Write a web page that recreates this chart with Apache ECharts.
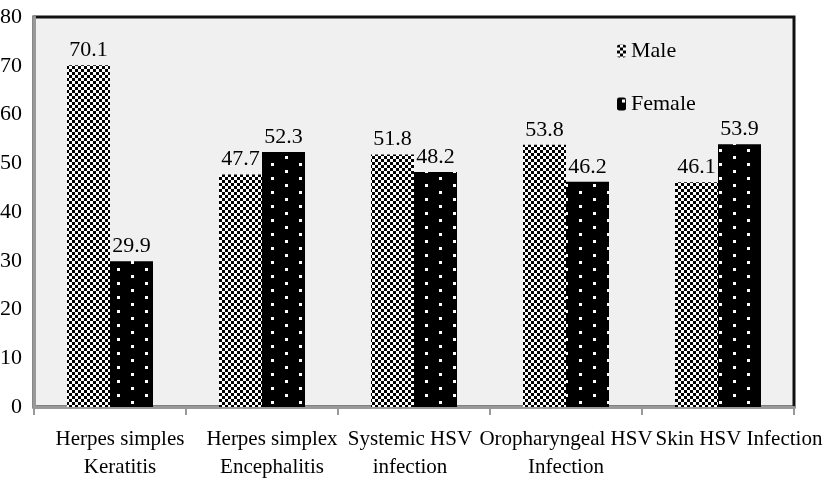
<!DOCTYPE html>
<html>
<head>
<meta charset="utf-8">
<script src="https://cdn.jsdelivr.net/npm/echarts@6/dist/echarts.min.js"></script>
<style>html,body{margin:0;padding:0;background:#fff}#c{width:826px;height:504px}</style>
</head>
<body>
<div id="c"></div>
<script>
const categories = ["Herpes simples\nKeratitis", "Herpes simplex\nEncephalitis", "Systemic HSV\ninfection", "Oropharyngeal HSV\nInfection", "Skin HSV Infection"];
const maleValues = [70.1, 47.7, 51.8, 53.8, 46.1];
const femaleValues = [29.9, 52.3, 48.2, 46.2, 53.9];
const seriesNames = ["Male", "Female"];

function checker() {
  const c = document.createElement('canvas');
  c.width = 6; c.height = 6;
  const g = c.getContext('2d');
  g.fillStyle = '#fff'; g.fillRect(0, 0, 6, 6);
  g.fillStyle = '#000';
  g.fillRect(0, 0, 3, 3); g.fillRect(3, 3, 3, 3);
  return c;
}
function dots() {
  const c = document.createElement('canvas');
  c.width = 28; c.height = 14;
  const g = c.getContext('2d');
  g.fillStyle = '#000'; g.fillRect(0, 0, 28, 14);
  g.fillStyle = '#fff';
  g.fillRect(5, 2, 3, 3); g.fillRect(19, 9, 3, 3);
  return c;
}
const FONT = 'Liberation Serif';
// horizontal nudges of the category labels (layout only)
const labelShift = [10, 10, -4, 0, 21];
const rich = {};
labelShift.forEach((s, i) => {
  rich['s' + i] = {fontFamily: FONT, fontSize: 21, color: '#000', lineHeight: 28,
    padding: s >= 0 ? [0, 0, 0, 2 * s] : [0, -2 * s, 0, 0]};
});
const chart = echarts.init(document.getElementById('c'), null, {renderer: 'canvas'});
const labelCfg = {show: true, position: 'top', distance: 4, color: '#000', fontFamily: FONT, fontSize: 22,
  formatter: p => p.value.toFixed(1)};
chart.setOption({
  animation: false,
  textStyle: {fontFamily: FONT},
  grid: {left: 34, top: 17, right: 32, bottom: 97, containLabel: false, outerBoundsMode: 'none',
    show: true, backgroundColor: '#f0f0f0', borderColor: '#111', borderWidth: 3},
  legend: {
    orient: 'vertical', left: 617, top: 40, itemWidth: 9, itemHeight: 13, itemGap: 31, padding: 0,
    textStyle: {fontFamily: FONT, fontSize: 22, color: '#000'},
    data: seriesNames
  },
  xAxis: {
    type: 'category', data: categories,
    axisLine: {lineStyle: {color: '#999', width: 3}},
    axisTick: {show: true, length: 8, lineStyle: {color: '#999', width: 2}},
    axisLabel: {interval: 0, color: '#000', fontFamily: FONT, fontSize: 21, lineHeight: 28, margin: 18,
      formatter: (v, i) => v.split('\n').map(t => '{s' + i + '|' + t + '}').join('\n'),
      rich: rich}
  },
  yAxis: {
    type: 'value', min: 0, max: 80, interval: 10,
    splitLine: {show: false},
    axisLine: {show: true, lineStyle: {color: '#999', width: 3}},
    axisTick: {show: false},
    axisLabel: {color: '#000', fontFamily: FONT, fontSize: 22, margin: 12}
  },
  series: [
    {name: seriesNames[0], type: 'bar', data: maleValues, barWidth: 43, barGap: '0%',
      itemStyle: {color: {image: checker(), repeat: 'repeat'}}, label: labelCfg},
    {name: seriesNames[1], type: 'bar', data: femaleValues, barWidth: 43, barGap: '0%',
      itemStyle: {color: {image: dots(), repeat: 'repeat'}}, label: labelCfg}
  ]
});
</script>
</body>
</html>
